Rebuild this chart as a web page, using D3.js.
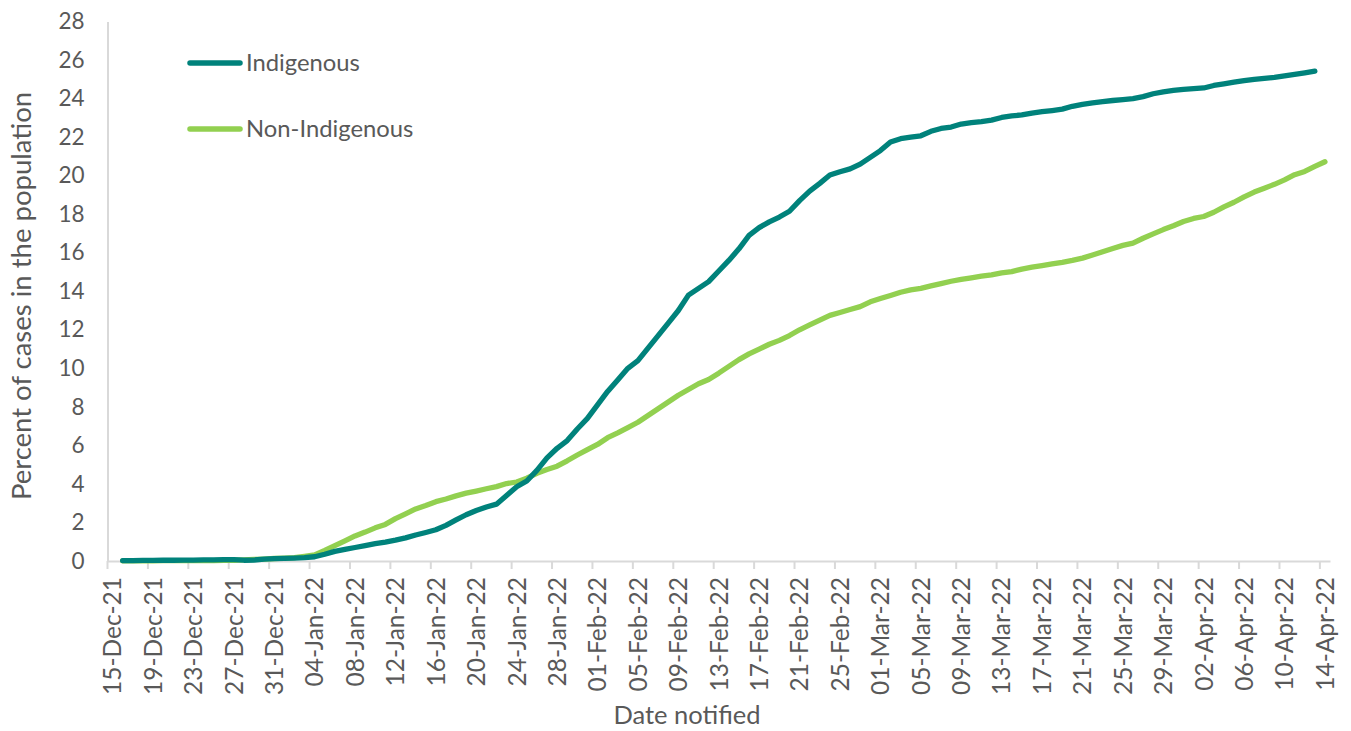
<!DOCTYPE html>
<html><head><meta charset="utf-8">
<script src="https://cdn.jsdelivr.net/npm/d3@7"></script>
<style>
html,body{margin:0;padding:0;background:#fff;}
svg{display:block;}
text{font-family:Lato,"Open Sans",sans-serif;fill:#595959;}
</style></head>
<body><svg id="c" width="1351" height="731"></svg>
<script>
// Categories: daily dates 15-Dec-21 .. 14-Apr-22
const startDate = new Date(2021, 11, 15);
const endDate = new Date(2022, 3, 15);
const dates = d3.timeDay.range(startDate, endDate);
const fmt = d3.timeFormat("%d-%b-%y");
const categories = dates.map(fmt);

const seriesNames = ["Indigenous", "Non-Indigenous"];
const seriesColors = ["#00827B", "#92D050"];

const indigenous = [null,
0.02,0.02,0.03,0.03,0.04,0.04,0.05,0.05,0.06,0.06,
0.07,0.07,0.04,0.05,0.10,0.12,0.14,0.15,0.17,0.22,
0.35,0.50,0.60,0.70,0.80,0.90,0.98,1.08,1.20,1.35,
1.48,1.62,1.85,2.13,2.40,2.62,2.80,2.95,3.40,3.85,
4.15,4.70,5.35,5.85,6.25,6.85,7.40,8.10,8.80,9.40,
10.00,10.40,11.05,11.70,12.35,13.00,13.80,14.15,14.50,15.05,
15.60,16.20,16.90,17.30,17.60,17.85,18.15,18.70,19.20,19.60,
20.03,20.20,20.35,20.60,20.95,21.30,21.75,21.92,22.00,22.07,
22.30,22.45,22.52,22.68,22.75,22.80,22.88,23.02,23.10,23.15,
23.25,23.32,23.38,23.45,23.60,23.70,23.78,23.84,23.90,23.95,
24.00,24.10,24.25,24.35,24.42,24.48,24.52,24.55,24.68,24.76,
24.85,24.93,25.00,25.05,25.10,25.18,25.25,25.33,25.42,null];

const nonIndigenous = [null,
0.01,0.01,0.01,0.01,0.02,0.02,0.02,0.02,0.02,0.02,
0.03,0.04,0.06,0.08,0.10,0.13,0.15,0.17,0.24,0.32,
0.55,0.80,1.05,1.30,1.50,1.72,1.90,2.20,2.45,2.70,
2.88,3.08,3.22,3.38,3.52,3.63,3.75,3.86,4.02,4.10,
4.30,4.55,4.75,4.92,5.20,5.50,5.78,6.05,6.40,6.65,
6.92,7.20,7.55,7.90,8.25,8.60,8.90,9.20,9.42,9.75,
10.10,10.45,10.75,11.00,11.25,11.45,11.70,12.00,12.25,12.50,
12.75,12.90,13.05,13.20,13.45,13.62,13.78,13.95,14.07,14.15,
14.28,14.40,14.52,14.62,14.70,14.78,14.85,14.95,15.02,15.15,
15.25,15.33,15.42,15.50,15.60,15.72,15.88,16.05,16.22,16.38,
16.50,16.75,16.98,17.20,17.40,17.62,17.78,17.88,18.10,18.38,
18.62,18.90,19.15,19.35,19.55,19.78,20.05,20.22,20.48,20.72];

const yTicks = d3.range(0, 29, 2);
const xTickLabels = categories.filter((c, i) => i % 4 === 0);

const svg = d3.select("#c");
const mLeft = 107.5, mRight = 1330, mTop = 21.5, mBottom = 561;

const x = d3.scaleBand().domain(categories).range([mLeft, mRight]).padding(0);
const y = d3.scaleLinear().domain([0, 28]).range([mBottom, mTop]);

const axisColor = "#D9D9D9";
const gy = svg.append("g").attr("transform", `translate(${mLeft},0)`)
  .call(d3.axisLeft(y).tickValues(yTicks).tickSize(0).tickPadding(23));
gy.select(".domain").attr("stroke", axisColor).attr("stroke-width", 2);
gy.selectAll("text").style("font-size", "22.5px").attr("fill", "#595959");

const gx = svg.append("g").attr("transform", `translate(0,${mBottom})`)
  .call(d3.axisBottom(x).tickValues(xTickLabels).tickSize(0).tickPadding(0));
gx.select(".domain").attr("stroke", axisColor).attr("stroke-width", 2);
gx.selectAll("text")
  .style("font-size", "24.5px").attr("fill", "#595959")
  .attr("text-anchor", "end")
  .attr("transform", "rotate(-90)")
  .attr("x", -16).attr("y", 0).attr("dy", "0.36em");

// tick marks at category boundaries
svg.append("g").selectAll("line").data(xTickLabels).join("line")
  .attr("x1", d => x(d)).attr("x2", d => x(d))
  .attr("y1", mBottom).attr("y2", mBottom + 8)
  .attr("stroke", axisColor).attr("stroke-width", 2);

const series = [indigenous, nonIndigenous];
const line = d3.line()
  .defined(d => d.v !== null)
  .x(d => x(d.c) + x.bandwidth() / 2)
  .y(d => y(d.v));

[1, 0].forEach(si => {
  const data = categories.map((c, i) => ({c, v: series[si][i]}));
  svg.append("path").datum(data)
    .attr("fill", "none")
    .attr("stroke", seriesColors[si])
    .attr("stroke-width", 5.3)
    .attr("stroke-linejoin", "round")
    .attr("stroke-linecap", "round")
    .attr("d", line);
});

// legend
const legY = [63, 129];
seriesNames.forEach((n, i) => {
  svg.append("line").attr("x1", 190).attr("x2", 240)
    .attr("y1", legY[i]).attr("y2", legY[i])
    .attr("stroke", seriesColors[i]).attr("stroke-width", 5.5)
    .attr("stroke-linecap", "round");
  svg.append("text").attr("x", 246).attr("y", legY[i]).attr("dy", "0.35em")
    .style("font-size", "23.8px").text(n);
});

// axis titles
svg.append("text")
  .attr("transform", `translate(31,296) rotate(-90)`)
  .attr("text-anchor", "middle")
  .style("font-size", "27.5px")
  .text("Percent of cases in the population");

svg.append("text")
  .attr("x", 687).attr("y", 724)
  .attr("text-anchor", "middle")
  .style("font-size", "25.5px")
  .text("Date notified");
</script></body></html>
